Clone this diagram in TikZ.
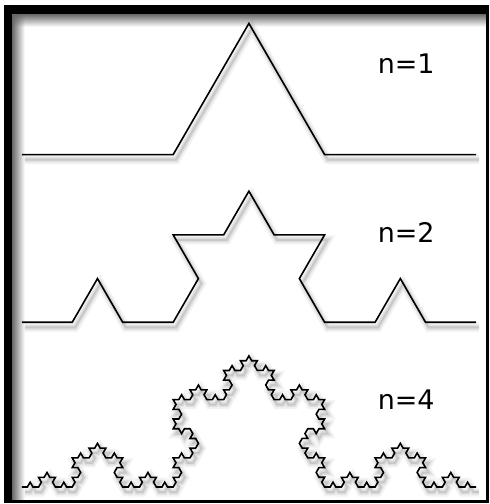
\documentclass[tikz,border=0pt]{standalone}
\usepackage{fontspec}
\setsansfont{DejaVu Sans}
\usetikzlibrary{decorations.fractals,fadings}

\begin{document}
\begin{tikzpicture}[x=1pt,y=-1pt,
    decoration=Koch snowflake,
    curve/.style={line width=1.6pt,
      preaction={draw,black,opacity=0.05,line width=9pt,transform canvas={shift={(3pt,-5pt)}}},
      preaction={draw,black,opacity=0.08,line width=5pt,transform canvas={shift={(3pt,-5pt)}}},
      preaction={draw,black,opacity=0.10,line width=2pt,transform canvas={shift={(3pt,-5pt)}}}},
    lbl/.style={font=\sffamily\fontsize{27}{27}\selectfont, inner sep=0pt}]
  \fill[white] (0,0) rectangle (489,504);
  \fill[black] (3,4) rectangle (489,503);
  \fill[white] (11,13) rectangle (486,500);
  \fill[black!60, path fading=south] (11,13) rectangle (486,26);
  \fill[black!60, path fading=east] (11,13) rectangle (24,500);
  \coordinate (a1) at (21,154);
  \coordinate (b1) at (476,154);
  \coordinate (a2) at (21,322);
  \coordinate (b2) at (476,322);
  \coordinate (a4) at (21,487);
  \coordinate (b4) at (476,487);
  \draw[curve] decorate{ (a1) -- (b1) };
  \draw[curve] decorate{ decorate{ (a2) -- (b2) }};
  \draw[curve] decorate{ decorate{ decorate{ decorate{ (a4) -- (b4) }}}};
  \foreach \n/\y in {1/63, 2/232, 4/400}
    \node[lbl] (n\n) at (406,\y) {n=\n};
\end{tikzpicture}
\end{document}
